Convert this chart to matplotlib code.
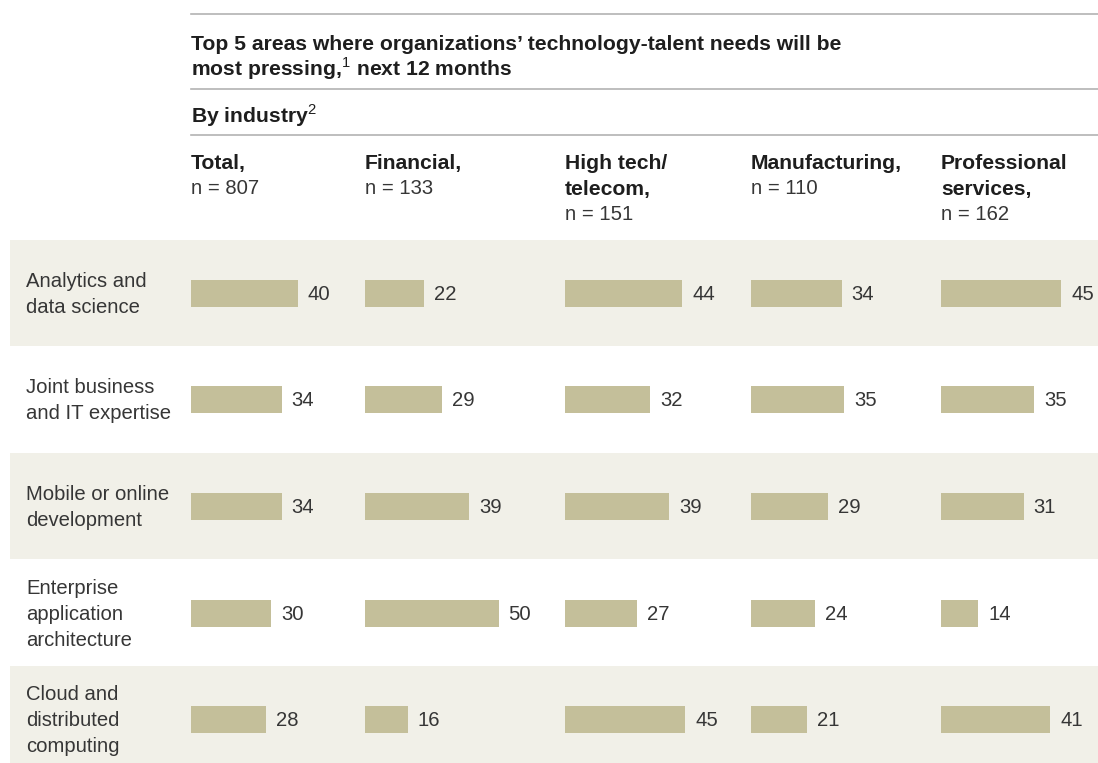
import numpy as np
import matplotlib
matplotlib.use('Agg')
from matplotlib import pyplot as plt

plt.rcParams['font.family'] = ['Liberation Sans', 'DejaVu Sans']
plt.rcParams['mathtext.fontset'] = 'custom'
plt.rcParams['mathtext.rm'] = 'Liberation Sans'
plt.rcParams['mathtext.bf'] = 'Liberation Sans:bold'

############# data ###########################################################
areas = ['Analytics and\ndata science',
         'Joint business\nand IT expertise',
         'Mobile or online\ndevelopment',
         'Enterprise\napplication\narchitecture',
         'Cloud and\ndistributed\ncomputing']
industries = ['Total,', 'Financial,', 'High tech/\ntelecom,', 'Manufacturing,',
              'Professional\nservices,']
n_sizes = [807, 133, 151, 110, 162]
total = [40, 34, 34, 30, 28]
financial = [22, 29, 39, 50, 16]
hightech = [44, 32, 39, 27, 45]
manufacturing = [34, 35, 29, 24, 21]
professional = [45, 35, 31, 14, 41]
values = [total, financial, hightech, manufacturing, professional]
##############################################################################

bar_col = '#c4bf9a'
shade = '#f1f0e8'
txt = '#363636'
dark = '#1e1e1e'
rule = '#b3b3b3'
fs_title = 15.2
fs = 14.6
line = 25.5     # px between text lines
dy = 1.5        # nudge text down a bit

fig = plt.figure(figsize=(10.98, 7.63), dpi=100)
ax = fig.add_axes([0, 0, 1, 1])
ax.set_xlim(0, 1098)
ax.set_ylim(763, 0)
ax.axis('off')

# layout in pixels
col_x = [191, 365, 565, 751, 941]
row_y = [293, 399, 506, 613, 719]
row_h = 106.5
px_per_unit = 2.67

# shaded bands
for i, y in enumerate(row_y):
    if i % 2 == 0:
        ax.axhspan(y - row_h / 2, min(y + row_h / 2, 763), xmin=10 / 1098, xmax=1,
                   color=shade, lw=0, zorder=0)

# rules
for y in [14, 89, 135]:
    ax.plot([191, 1098], [y, y], color=rule, lw=1.2)

ax.text(191, 43 + dy, 'Top 5 areas where organizations\u2019 technology-talent needs will be',
        fontsize=fs_title, fontweight='bold', color=dark, va='center')
ax.text(191, 67 + dy, r'most pressing,$^{\mathrm{1}}$ next 12 months',
        fontsize=fs_title, fontweight='bold', color=dark, va='center')
ax.text(191, 114 + dy, r'By industry$^{\mathrm{2}}$', fontsize=fs_title, fontweight='bold',
        color=dark, va='center')

# column headers
for j in range(5):
    parts = industries[j].split('\n')
    for k, p in enumerate(parts):
        ax.text(col_x[j], 162 + dy + line * k, p, fontsize=fs_title, fontweight='bold',
                color=dark, va='center')
    ax.text(col_x[j], 162 + dy + line * len(parts), 'n = %d' % n_sizes[j], fontsize=fs,
            color=txt, va='center')

# rows
for i in range(5):
    parts = areas[i].split('\n')
    y0 = row_y[i] + dy - line * (len(parts) - 1) / 2
    for k, p in enumerate(parts):
        ax.text(26, y0 + line * k, p, fontsize=fs, color=txt, va='center')
    for j in range(5):
        v = values[j][i]
        ax.barh(row_y[i], v * px_per_unit, left=col_x[j], height=27,
                color=bar_col, lw=0, zorder=2)
        ax.text(col_x[j] + v * px_per_unit + 10, row_y[i] + dy, str(v), fontsize=fs,
                color=txt, va='center')

plt.savefig('out.png', dpi=100)
